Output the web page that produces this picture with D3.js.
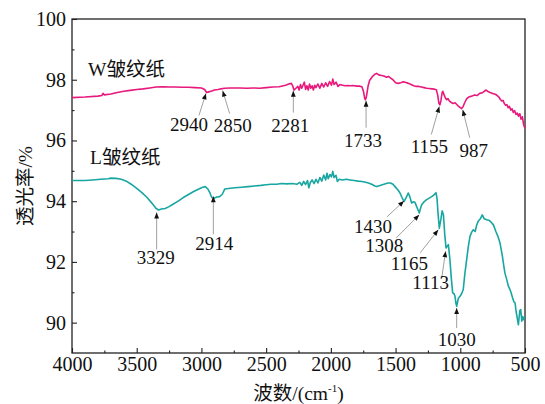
<!DOCTYPE html>
<html>
<head>
<meta charset="utf-8">
<script src="https://cdn.jsdelivr.net/npm/d3@7"></script>
<style>
  body { margin: 0; background: #fff; }
  svg text { font-family: "Liberation Serif", "Times New Roman", "Noto Sans CJK SC", serif; fill: #111; }
</style>
</head>
<body>
<svg id="chart" width="545" height="404"></svg>
<script>
// W皱纹纸 spectrum (wavenumber cm-1, transmittance %)
const wWave = [4000,3900,3800,3770,3760,3750,3700,3650,3600,3550,3500,3450,3400,3350,3300,3250,3200,3150,3100,3050,3000,2975,2960,2945,2920,2900,2870,2850,2820,2780,2700,2650,2600,2550,2500,2450,2400,2350,2320,2305,2295,2285,2270,2255,2245,2235,2225,2215,2205,2195,2185,2175,2165,2155,2145,2135,2125,2115,2100,2085,2070,2055,2040,2025,2010,1995,1985,1975,1960,1945,1930,1910,1890,1870,1850,1830,1800,1780,1760,1748,1738,1733,1725,1712,1700,1680,1660,1646,1630,1610,1590,1570,1555,1540,1520,1500,1480,1460,1440,1420,1400,1380,1360,1340,1320,1300,1280,1260,1240,1220,1200,1185,1175,1165,1158,1150,1140,1135,1125,1115,1105,1095,1085,1070,1055,1040,1020,1000,990,980,965,950,930,910,890,870,850,830,815,800,790,770,750,730,715,700,690,680,670,660,650,640,630,620,610,600,590,580,570,560,550,540,530,520,512,505,500];
const wTrans = [97.41,97.43,97.46,97.48,97.55,97.50,97.53,97.58,97.62,97.65,97.68,97.70,97.73,97.76,97.77,97.76,97.76,97.75,97.75,97.74,97.73,97.68,97.58,97.60,97.63,97.66,97.68,97.70,97.72,97.73,97.73,97.72,97.73,97.72,97.74,97.76,97.77,97.82,97.87,97.88,97.80,97.66,97.72,97.78,97.66,97.84,97.72,97.82,97.92,97.68,97.80,97.66,97.86,97.72,97.80,97.66,97.82,97.74,97.86,97.72,97.88,97.76,97.90,97.78,97.94,97.82,98.02,97.84,97.92,97.78,97.84,97.82,97.80,97.81,97.80,97.81,97.79,97.79,97.77,97.62,97.38,97.34,97.45,97.80,97.98,98.10,98.18,98.21,98.16,98.14,98.12,98.08,98.11,98.06,98.00,97.90,97.88,97.90,97.93,97.91,97.88,97.84,97.80,97.78,97.78,97.76,97.74,97.72,97.71,97.70,97.69,97.67,97.50,97.22,97.17,97.30,97.58,97.62,97.50,97.40,97.34,97.38,97.30,97.25,97.22,97.24,97.15,97.08,97.05,97.10,97.25,97.38,97.44,97.46,97.50,97.48,97.55,97.57,97.62,97.66,97.62,97.58,97.55,97.52,97.48,97.42,97.35,97.30,97.32,97.22,97.16,97.18,97.08,97.12,97.00,97.04,96.92,96.98,96.86,96.90,96.80,96.88,96.70,96.78,96.55,96.45,96.40];

// L皱纹纸 spectrum
const lWave = [4000,3900,3840,3780,3720,3700,3660,3620,3580,3540,3500,3460,3420,3380,3350,3330,3310,3280,3250,3220,3180,3140,3100,3060,3020,2990,2970,2950,2935,2920,2905,2880,2860,2840,2820,2790,2740,2690,2640,2590,2540,2500,2460,2420,2380,2340,2300,2260,2240,2225,2210,2195,2180,2170,2160,2145,2130,2115,2100,2085,2070,2055,2040,2030,2020,2007,1995,1985,1975,1960,1950,1935,1910,1880,1852,1820,1790,1760,1740,1710,1680,1660,1646,1620,1590,1560,1540,1520,1504,1480,1466,1450,1435,1420,1402,1390,1376,1360,1350,1335,1317,1305,1298,1280,1260,1240,1221,1205,1188,1180,1172,1162,1150,1140,1130,1120,1110,1100,1092,1080,1070,1059,1048,1041,1034,1028,1015,1002,990,977,965,951,938,925,912,899,885,873,860,845,830,815,796,775,760,744,725,710,693,675,665,655,640,628,616,605,595,585,577,568,560,551,545,540,533,525,518,513,505,500];
const lTrans = [94.68,94.68,94.70,94.72,94.74,94.76,94.75,94.72,94.66,94.55,94.42,94.28,94.12,93.92,93.76,93.71,93.74,93.76,93.82,93.90,94.00,94.12,94.22,94.32,94.40,94.46,94.48,94.40,94.28,94.12,94.10,94.14,94.15,94.22,94.40,94.42,94.44,94.46,94.48,94.50,94.52,94.54,94.56,94.56,94.58,94.57,94.58,94.56,94.62,94.52,94.65,94.55,94.68,94.44,94.60,94.70,94.58,94.72,94.60,94.78,94.66,94.86,94.70,94.92,94.74,94.88,94.80,94.98,94.78,94.85,94.65,94.72,94.70,94.72,94.70,94.68,94.66,94.65,94.63,94.60,94.55,94.50,94.48,94.52,94.56,94.60,94.60,94.56,94.48,94.36,94.27,94.12,93.99,94.10,94.27,94.15,93.94,93.98,93.96,93.80,93.61,93.80,93.88,93.98,94.05,94.10,94.15,94.20,94.28,94.10,93.60,93.11,93.40,93.68,93.55,92.90,92.46,92.52,92.57,92.07,91.50,90.98,90.95,90.87,90.65,90.54,90.80,90.87,90.95,91.09,91.60,92.07,92.50,92.84,92.98,93.06,93.00,93.22,93.35,93.42,93.55,93.42,93.39,93.36,93.30,93.22,93.00,92.85,92.62,92.20,91.90,91.63,91.40,91.20,91.09,90.95,90.80,90.68,90.65,90.35,90.15,89.93,90.20,90.40,90.43,90.05,90.20,90.10,90.18,90.15];

// peak annotations: label, arrow tip (wavenumber, transmittance)
const annText  = ["2940","2850","2281","1733","1155","987","3329","2914","1430","1308","1165","1113","1030"];
const annWave  = [2965, 2836, 2290, 1728, 1162, 981, 3346, 2908, 1435, 1317, 1170, 1113, 1028];
const annTrans = [97.55, 97.64, 97.64, 97.31, 97.12, 97.01, 93.63, 94.16, 94.01, 93.55, 93.06, 92.35, 90.48];

const seriesNames = ["W皱纹纸", "L皱纹纸"];
const xTicks = [4000, 3500, 3000, 2500, 2000, 1500, 1000, 500];
const xMinor = [3750, 3250, 2750, 2250, 1750, 1250, 750];
const yTicks = [90, 92, 94, 96, 98, 100];
const yMinor = [91, 93, 95, 97, 99];

const svg = d3.select("#chart");
const margin = {left: 72, right: 20, top: 19, bottom: 51};
const width = 545 - margin.left - margin.right;
const height = 404 - margin.top - margin.bottom;

const g = svg.append("g").attr("transform", "translate(" + margin.left + "," + margin.top + ")");

const x = d3.scaleLinear().domain([4000, 500]).range([0, width]);
const y = d3.scaleLinear().domain([89, 100]).range([height, 0]);

// axes, ticks pointing inward
g.append("g").attr("transform", "translate(0," + height + ")")
  .call(d3.axisBottom(x).tickValues(xTicks).tickSize(-5).tickPadding(3.5).tickFormat(d3.format("d")));
g.append("g").attr("transform", "translate(0," + height + ")")
  .call(d3.axisBottom(x).tickValues(xMinor).tickSize(-2.5).tickFormat(""));
g.append("g")
  .call(d3.axisLeft(y).tickValues(yTicks).tickSize(-5).tickPadding(6).tickFormat(d3.format("d")));
g.append("g")
  .call(d3.axisLeft(y).tickValues(yMinor).tickSize(-2.5).tickFormat(""));

g.selectAll(".domain").remove();
g.selectAll(".tick line").attr("stroke", "#222").attr("stroke-width", 1.1);
g.selectAll(".tick text").attr("font-size", 20).attr("font-family", "Liberation Serif").attr("fill", "#111");

g.append("rect").attr("width", width).attr("height", height)
  .attr("fill", "none").attr("stroke", "#222").attr("stroke-width", 1.3);

// curves
const line = d3.line().x(d => x(d[0])).y(d => y(d[1]));
const wData = d3.zip(wWave, wTrans);
const lData = d3.zip(lWave, lTrans);

g.append("path").datum(wData).attr("fill", "none").attr("stroke", "#e8187c")
  .attr("stroke-width", 1.6).attr("stroke-linejoin", "round").attr("d", line);
g.append("path").datum(lData).attr("fill", "none").attr("stroke", "#17a6a1")
  .attr("stroke-width", 1.6).attr("stroke-linejoin", "round").attr("d", line);

// series labels
const nameLayout = [[3876, 98.125], [3861, 95.23]];
seriesNames.forEach((n, i) => {
  g.append("text").attr("x", x(nameLayout[i][0])).attr("y", y(nameLayout[i][1]))
    .attr("font-size", 19.5).text(n);
});

// annotation offsets (px): line end dx,dy ; label centre dx, baseline dy
const annLayout = [
  [-7, 22, -17, 38], [7, 23, 10, 41], [0, 22, -3, 41], [0, 27, -3, 46], [-8, 28, -10, 47], [7, 28, 11, 47],
  [0, 37, -1, 52], [0, 38, 1, 54], [-17, 16, -31, 32], [-23, 23, -35, 37], [-18, 23, -29, 40], [-4, 27, -15, 38], [0, 20, 0, 38]
];

annText.forEach((t, i) => {
  const tx = x(annWave[i]), ty = y(annTrans[i]);
  const [ldx, ldy, tdx, tdy] = annLayout[i];
  const ex = tx + ldx, ey = ty + ldy;
  g.append("line").attr("x1", ex).attr("y1", ey).attr("x2", tx).attr("y2", ty)
    .attr("stroke", "#777").attr("stroke-width", 0.7);
  const ang = Math.atan2(ty - ey, tx - ex);
  const len = 6, hw = 2.4;
  const bx = tx - len * Math.cos(ang), by = ty - len * Math.sin(ang);
  const px = -Math.sin(ang) * hw, py = Math.cos(ang) * hw;
  g.append("path")
    .attr("d", "M" + tx + "," + ty + "L" + (bx + px) + "," + (by + py) + "L" + (bx - px) + "," + (by - py) + "Z")
    .attr("fill", "#111");
  g.append("text").attr("x", tx + tdx).attr("y", ty + tdy)
    .attr("text-anchor", "middle").attr("font-size", 19).text(t);
});

// axis titles
const xt = svg.append("text").attr("x", margin.left + width / 2).attr("y", 400)
  .attr("text-anchor", "middle").attr("font-size", 19.5);
xt.append("tspan").text("波数/(cm");
xt.append("tspan").attr("font-size", 11).attr("dy", -8).text("-1");
xt.append("tspan").attr("dy", 8).text(")");

svg.append("text").attr("transform", "translate(25," + (margin.top + height / 2) + ") rotate(-90)")
  .attr("text-anchor", "middle").attr("dy", "0.35em").attr("font-size", 19.5).text("透光率/%");
</script>
</body>
</html>
